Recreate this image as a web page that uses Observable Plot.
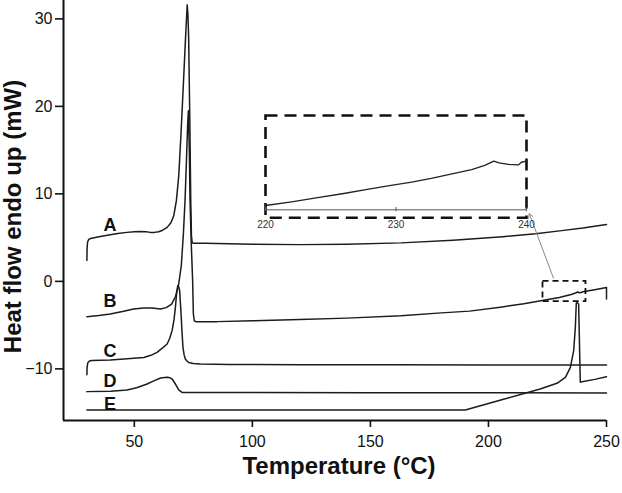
<!DOCTYPE html>
<html><head><meta charset="utf-8">
<script src="https://cdn.jsdelivr.net/npm/d3@7"></script>
<script src="https://cdn.jsdelivr.net/npm/@observablehq/plot@0.6"></script>
<style>
body{margin:0;background:#fff;}
#wrap{position:relative;width:622px;height:493px;font-family:"Liberation Sans",Arial,sans-serif;}
#wrap > svg{position:absolute;left:0;top:0;}
#wrap > .inset{position:absolute;left:255px;top:105px;}
</style></head><body><div id="wrap"></div>
<script>
// ---- data ----
const X_TICKS = [50, 100, 150, 200, 250];
const Y_TICKS = [-10, 0, 10, 20, 30];
const INSET_TICKS = [220, 230, 240];

const A_T  = [29.9, 30.0, 30.2, 30.7, 31.5, 35, 39.8, 43, 46.9, 50, 52.6, 55, 56.8, 58.5, 60.3, 62, 63.9, 65.5, 66.7, 67.8, 68.8, 69.7, 70.5, 71.2, 71.9, 72.4, 72.7, 73.0, 73.5, 73.9, 74.2, 74.5, 75, 80, 90, 100, 120, 140, 163, 185, 206, 220, 231, 240, 250];
const A_HF = [2.4, 3.8, 4.5, 4.8, 4.9, 5.1, 5.34, 5.48, 5.6, 5.68, 5.71, 5.66, 5.6, 5.6, 5.68, 5.85, 6.17, 6.7, 7.5, 9.2, 12, 16.5, 21, 25, 29, 31.6, 30.5, 28, 18.5, 9.2, 5.2, 4.45, 4.35, 4.35, 4.3, 4.25, 4.2, 4.25, 4.4, 4.7, 5.1, 5.45, 5.8, 6.1, 6.5];

const B_T  = [29.9, 35, 39.8, 45, 49.7, 54, 57.5, 61.1, 63.5, 65.8, 67.5, 68.8, 69.9, 70.8, 71.5, 72.1, 72.6, 72.9, 73.3, 73.6, 74.1, 74.7, 75.0, 75.4, 76, 85, 100, 120, 140, 163, 180, 192, 205, 215, 224, 230, 235, 237.2, 237.7, 238.3, 239.2, 240, 245, 250, 250];
const B_HF = [-4.03, -3.9, -3.73, -3.45, -3.16, -3.04, -3.05, -3.16, -3.0, -2.6, -1.7, -0.3, 1.8, 5.5, 9.4, 14, 18, 19.5, 15, 9.2, 4.4, 0.1, -3.7, -4.5, -4.6, -4.6, -4.5, -4.35, -4.2, -3.92, -3.6, -3.4, -2.95, -2.55, -2.13, -1.85, -1.5, -1.3, -1.2, -1.3, -1.28, -1.18, -0.95, -0.69, -2.0];

const C_T  = [29.9, 30.0, 30.3, 31, 32, 39.8, 47, 54, 57, 59.6, 62, 63.9, 65, 66, 66.8, 67.4, 67.9, 68.4, 68.8, 69.2, 69.8, 70.2, 70.6, 71.1, 71.6, 72.3, 73, 75, 78, 90, 120, 160, 200, 250];
const C_HF = [-10.66, -9.8, -9.3, -9.1, -9.05, -8.98, -8.85, -8.69, -8.45, -8.11, -7.6, -7.16, -6.5, -5.63, -4.4, -2.97, -1.4, -0.49, -0.6, -1.06, -3.73, -5.8, -7.54, -8.4, -8.87, -9.1, -9.26, -9.38, -9.44, -9.5, -9.52, -9.53, -9.55, -9.55];

const D_T  = [29.9, 40, 46.9, 51, 55.4, 58.5, 61.1, 63.9, 65.2, 66, 67.4, 68.8, 70.2, 75, 89.3, 150, 250];
const D_HF = [-12.6, -12.55, -12.41, -12.15, -11.73, -11.35, -11.04, -10.97, -11.02, -11.16, -11.73, -12.41, -12.69, -12.7, -12.7, -12.72, -12.75];

const E_T  = [29.9, 100, 190.2, 206, 221.9, 229, 232.6, 234.7, 236.1, 236.8, 237.2, 237.6, 238.2, 238.9, 239.6, 245, 250];
const E_HF = [-14.7, -14.7, -14.7, -13.5, -12.3, -11.65, -10.97, -9.83, -7.92, -5.26, -2.51, -2.4, -2.6, -11.54, -11.46, -11.2, -10.89];

// inset: curve B between 220 and 240 °C
const INSET_T  = [220, 222, 224, 226, 227.8, 229.5, 231.2, 232.7, 234.2, 235.8, 236.8, 237.5, 237.9, 238.6, 239.4, 239.6, 240];
const INSET_HF = [-2.0, -1.93, -1.85, -1.77, -1.69, -1.62, -1.55, -1.48, -1.40, -1.31, -1.23, -1.15, -1.18, -1.21, -1.22, -1.17, -1.15];

const LABELS   = ["A", "B", "C", "D", "E"];
const LABEL_T  = [39.7, 39.7, 39.7, 39.7, 39.7];
const LABEL_HF = [6.37, -2.29, -7.99, -11.4, -13.99];

const ZOOM_BOX_T  = [223.1, 241.3];
const ZOOM_BOX_HF = [-2.32, 0.0];
const POINTER_T  = [227.5, 217.3];
const POINTER_HF = [0.39, 7.74];

// ---- build tables ----
const series = [["A", A_T, A_HF], ["B", B_T, B_HF], ["C", C_T, C_HF], ["D", D_T, D_HF], ["E", E_T, E_HF]];
const rows = series.flatMap(([k, T, H]) => T.map((t, i) => ({curve: k, t, hf: H[i]})));
const labelRows = LABELS.map((s, i) => ({s, t: LABEL_T[i], hf: LABEL_HF[i]}));
const insetRows = INSET_T.map((t, i) => ({t, hf: INSET_HF[i]}));
const font = '"Liberation Sans", Arial, sans-serif';

const main = Plot.plot({
  width: 622, height: 493,
  marginLeft: 63, marginRight: 16, marginTop: 0, marginBottom: 73,
  x: {domain: [20, 250]},
  y: {domain: [-15.9, 32.1]},
  style: {fontFamily: font, background: "transparent", color: "#111", overflow: "visible"},
  marks: [
    Plot.axisX({ticks: X_TICKS, tickSize: 7, tickPadding: 8, fontSize: 16, label: null, strokeWidth: 1.6}),
    Plot.axisY({ticks: Y_TICKS, tickSize: 8, tickPadding: 3, fontSize: 16, label: null, strokeWidth: 1.6}),
    Plot.ruleX([20], {stroke: "#111", strokeWidth: 2}),
    Plot.ruleY([-15.9], {stroke: "#111", strokeWidth: 2}),
    Plot.line(rows, {x: "t", y: "hf", z: "curve", stroke: "#1c1c1c", strokeWidth: 1.5, curve: "linear"}),
    Plot.text(labelRows, {x: "t", y: "hf", text: "s", fontSize: 18, fontWeight: "bold", fill: "#111"}),
    Plot.rect([0], {x1: () => ZOOM_BOX_T[0], x2: () => ZOOM_BOX_T[1], y1: () => ZOOM_BOX_HF[0], y2: () => ZOOM_BOX_HF[1],
      fill: "none", stroke: "#111", strokeWidth: 1.8, strokeDasharray: "6,4"}),
    Plot.arrow([0], {x1: () => POINTER_T[0], y1: () => POINTER_HF[0], x2: () => POINTER_T[1], y2: () => POINTER_HF[1],
      stroke: "#888", strokeWidth: 1, headLength: 7}),
    Plot.text(["Heat flow endo up (mW)"], {frameAnchor: "left", textAnchor: "middle", lineAnchor: "middle", rotate: -90, dx: -50, dy: 6, fontSize: 24, fontWeight: "bold", fill: "#111"}),
    Plot.text(["Temperature (°C)"], {frameAnchor: "bottom", textAnchor: "middle", lineAnchor: "middle", dx: 4, dy: 46, fontSize: 24, fontWeight: "bold", fill: "#111"})
  ]
});

const inset = Plot.plot({
  width: 282, height: 135,
  marginLeft: 10, marginRight: 11, marginTop: 10, marginBottom: 22.7,
  x: {domain: [220, 240]},
  y: {domain: [-2.236, -0.273], axis: null},
  style: {fontFamily: font, background: "transparent", color: "#333", overflow: "visible"},
  marks: [
    Plot.frame({stroke: "#111", strokeWidth: 2.6, strokeDasharray: "12,7"}),
    Plot.ruleY([-2.083], {stroke: "#555", strokeWidth: 1}),
    Plot.ruleX(INSET_TICKS, {y1: -2.12, y2: -2.04, stroke: "#555", strokeWidth: 1}),
    Plot.line(insetRows, {x: "t", y: "hf", stroke: "#222", strokeWidth: 1.3}),
    Plot.axisX({ticks: INSET_TICKS, tickSize: 0, tickPadding: 3, fontSize: 10, label: null})
  ]
});
inset.classList.add("inset");

const wrap = document.getElementById("wrap");
wrap.appendChild(main);
wrap.appendChild(inset);
</script></body></html>
